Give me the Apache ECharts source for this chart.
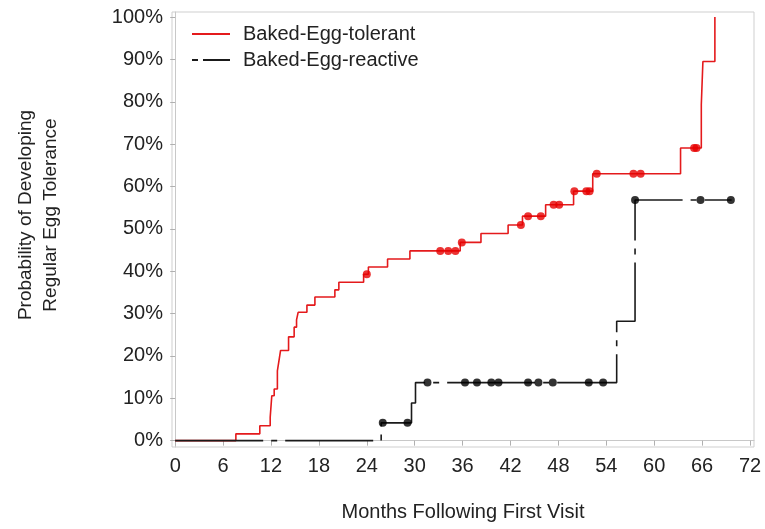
<!DOCTYPE html>
<html>
<head>
<meta charset="utf-8">
<script src="https://cdn.jsdelivr.net/npm/echarts@6/dist/echarts.min.js"></script>
<style>
html,body{margin:0;padding:0;background:#fff;}
#chart{width:765px;height:529px;}
</style>
</head>
<body>
<div id="chart"></div>
<script>
const seriesNames = ['Baked-Egg-tolerant', 'Baked-Egg-reactive'];
const xTitle = 'Months Following First Visit';
const yTitle = 'Probability of Developing\nRegular Egg Tolerance';
const xTicks = [0, 6, 12, 18, 24, 30, 36, 42, 48, 54, 60, 66, 72];
const yTicks = [0, 10, 20, 30, 40, 50, 60, 70, 80, 90, 100];

const tolerantMonths = [0, 7.6, 10.6, 11.9, 12.1, 12.4, 12.8, 13.0, 13.2, 14.2, 14.9, 15.2, 15.4, 16.5, 17.5, 20.0, 20.5, 23.6, 24.2, 26.6, 29.4, 35.7, 38.3, 41.7, 43.5, 46.4, 49.9, 52.3, 63.3, 65.9, 66.1, 67.6];
const tolerantProb = [0, 1.6, 3.5, 5.5, 10.6, 12.2, 16.5, 18.9, 21.3, 24.5, 26.8, 28.5, 30.3, 32.0, 33.9, 35.6, 37.4, 39.3, 41.0, 42.9, 44.8, 46.8, 48.9, 50.9, 53.0, 55.7, 58.9, 63.0, 69.1, 79.3, 89.5, 100];
const tolerantCensorMonths = [24.0, 33.2, 34.2, 35.1, 35.9, 43.3, 44.2, 45.8, 47.4, 48.1, 50.0, 51.5, 51.9, 52.8, 57.4, 58.3, 65.0, 65.3];
const tolerantCensorProb = [39.3, 44.8, 44.8, 44.8, 46.8, 50.9, 53.0, 53.0, 55.7, 55.7, 58.9, 58.9, 58.9, 63.0, 63.0, 63.0, 69.1, 69.1];

const reactiveMonths = [0, 25.8, 29.6, 30.1, 55.3, 57.6, 69.7];
const reactiveProb = [0, 4.2, 8.9, 13.7, 28.2, 56.8, 56.8];
const reactiveCensorMonths = [26.0, 29.1, 31.6, 36.3, 37.8, 39.6, 40.5, 44.2, 45.5, 47.3, 51.8, 53.6, 57.6, 65.8, 69.6];
const reactiveCensorProb = [4.2, 4.2, 13.7, 13.7, 13.7, 13.7, 13.7, 13.7, 13.7, 13.7, 13.7, 13.7, 56.8, 56.8, 56.8];

const zip = (a, b) => a.map((v, i) => [v, b[i]]);
const RED = '#e41a1c';
const BLACK = '#1a1a1a';
const FONT = 'Liberation Sans, Arial, sans-serif';

const chart = echarts.init(document.getElementById('chart'), null, {renderer: 'canvas'});
chart.setOption({
  animation: false,
  backgroundColor: '#fff',
  textStyle: {fontFamily: FONT},
  grid: {left: 172, right: 11, top: 12, bottom: 82, show: true, borderColor: '#cfcfcf', borderWidth: 1},
  legend: {
    orient: 'vertical', left: 186, top: 19,
    itemWidth: 38, itemHeight: 20, itemGap: 6,
    itemStyle: {opacity: 0},
    textStyle: {fontSize: 20, color: '#222', fontFamily: FONT, padding: [0, 0, 0, 8]},
    data: [
      {name: seriesNames[0]},
      {name: seriesNames[1], lineStyle: {type: [6, 5, 27, 10]}}
    ]
  },
  graphic: [{
    type: 'text', x: 38.5, y: 215, rotation: Math.PI / 2,
    style: {
      text: yTitle, fill: '#222', font: '19px ' + FONT,
      align: 'center', verticalAlign: 'middle', lineHeight: 25
    }
  }],
  xAxis: {
    type: 'value', min: -0.4, max: 72.5,
    name: xTitle, nameLocation: 'middle', nameGap: 55,
    nameTextStyle: {fontSize: 20, color: '#222', fontFamily: FONT},
    axisLine: {show: true, lineStyle: {color: '#c8c8c8'}},
    axisTick: {show: true, length: 5, lineStyle: {color: '#b0b0b0'}, customValues: xTicks},
    axisLabel: {fontSize: 20, color: '#222', margin: 9, customValues: xTicks, fontFamily: FONT},
    splitLine: {show: false}
  },
  yAxis: {
    type: 'value', min: -1.5, max: 101.2,
    axisLine: {show: true, lineStyle: {color: '#c8c8c8'}},
    axisTick: {show: true, length: 5, lineStyle: {color: '#b0b0b0'}, customValues: yTicks},
    axisLabel: {fontSize: 20, color: '#222', margin: 9, customValues: yTicks, formatter: v => v + '%', fontFamily: FONT},
    splitLine: {show: false}
  },
  series: [
    {
      name: seriesNames[0], type: 'line', step: 'end', symbol: 'none',
      data: zip(tolerantMonths, tolerantProb),
      lineStyle: {color: RED, width: 1.6}, itemStyle: {color: RED}, z: 2
    },
    {
      name: seriesNames[1], type: 'line', step: 'end', symbol: 'none',
      data: zip(reactiveMonths, reactiveProb),
      lineStyle: {color: BLACK, width: 1.6, type: [88, 8, 6, 8]}, itemStyle: {color: BLACK}, z: 3
    },
    {
      name: 'tolerant-censored', type: 'scatter', symbol: 'circle', symbolSize: 8,
      data: zip(tolerantCensorMonths, tolerantCensorProb),
      itemStyle: {color: '#e60000'}, z: 4
    },
    {
      name: 'reactive-censored', type: 'scatter', symbol: 'circle', symbolSize: 8,
      data: zip(reactiveCensorMonths, reactiveCensorProb),
      itemStyle: {color: '#000'}, z: 5
    }
  ]
});
</script>
</body>
</html>
